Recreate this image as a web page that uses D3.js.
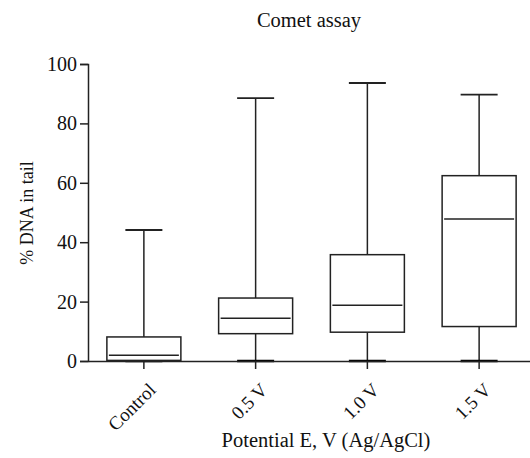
<!DOCTYPE html>
<html lang="en">
<head>
  <meta charset="UTF-8">
  <title>Comet assay</title>
  <script src="https://d3js.org/d3.v7.min.js"></script>
  <style>
    body { margin: 0; background: #fff; }
  </style>
</head>
<body>
  <script>
    // data
    const categories = ["Control", "0.5 V", "1.0 V", "1.5 V"];
    const whiskerLow = [0, 0, 0, 0];
    const q1 = [0.2, 9.2, 9.7, 11.6];
    const median = [1.9, 14.4, 18.8, 47.8];
    const q3 = [8.1, 21.2, 35.8, 62.4];
    const whiskerHigh = [44.1, 88.5, 93.6, 89.7];
    const yTicks = [0, 20, 40, 60, 80, 100];

    const width = 530, height = 458;
    const font = "'Liberation Serif', 'Times New Roman', serif";
    const svg = d3.select("body")
      .append("svg")
      .attr("width", width)
      .attr("height", height)
      .attr("font-family", font);

    const x = d3.scaleBand()
      .domain(categories)
      .range([88, 535]);

    const y = d3.scaleLinear()
      .domain([0, 100])
      .range([361, 64]);

    const stroke = "#222";
    const boxW = 74, capW = 37;

    // title
    svg.append("text")
      .attr("x", 309)
      .attr("y", 27)
      .attr("text-anchor", "middle")
      .attr("font-size", 20.5)
      .attr("fill", "#111")
      .text("Comet assay");

    // y axis
    const yAxis = svg.append("g")
      .attr("transform", "translate(88,0)")
      .call(d3.axisLeft(y).tickValues(yTicks).tickSize(8).tickPadding(3))
      .attr("font-family", font)
      .attr("font-size", 20);
    yAxis.select(".domain").attr("stroke", stroke).attr("stroke-width", 1.5);
    yAxis.selectAll(".tick line").attr("stroke", stroke).attr("stroke-width", 1.5);
    yAxis.selectAll(".tick text").attr("fill", "#111");

    svg.append("text")
      .attr("transform", "translate(33,213) rotate(-90)")
      .attr("text-anchor", "middle")
      .attr("font-size", 18)
      .attr("fill", "#111")
      .text("% DNA in tail");

    // boxes
    const g = svg.append("g")
      .selectAll("g")
      .data(categories)
      .join("g")
      .attr("transform", d => `translate(${x(d) + x.bandwidth() / 2},0)`);

    // whisker stems
    g.append("line")
      .attr("x1", 0).attr("x2", 0)
      .attr("y1", (d, i) => y(q3[i]))
      .attr("y2", (d, i) => y(whiskerHigh[i]))
      .attr("stroke", stroke).attr("stroke-width", 1.5);
    g.append("line")
      .attr("x1", 0).attr("x2", 0)
      .attr("y1", (d, i) => y(q1[i]))
      .attr("y2", (d, i) => y(whiskerLow[i]))
      .attr("stroke", stroke).attr("stroke-width", 1.5);

    // caps
    g.append("line")
      .attr("x1", -capW / 2).attr("x2", capW / 2)
      .attr("y1", (d, i) => y(whiskerHigh[i]))
      .attr("y2", (d, i) => y(whiskerHigh[i]))
      .attr("stroke", stroke).attr("stroke-width", 1.8);
    g.append("line")
      .attr("x1", -capW / 2).attr("x2", capW / 2)
      .attr("y1", (d, i) => y(whiskerLow[i]))
      .attr("y2", (d, i) => y(whiskerLow[i]))
      .attr("stroke", "#000").attr("stroke-width", 2.5);

    // box
    g.append("rect")
      .attr("x", -boxW / 2)
      .attr("width", boxW)
      .attr("y", (d, i) => y(q3[i]))
      .attr("height", (d, i) => y(q1[i]) - y(q3[i]))
      .attr("fill", "#fff")
      .attr("stroke", stroke).attr("stroke-width", 1.5);

    // median
    g.append("line")
      .attr("x1", -boxW / 2 + 2).attr("x2", boxW / 2 - 2)
      .attr("y1", (d, i) => y(median[i]))
      .attr("y2", (d, i) => y(median[i]))
      .attr("stroke", stroke).attr("stroke-width", 1.5);

    // x axis
    const xAxis = svg.append("g")
      .attr("transform", "translate(0,361)")
      .call(d3.axisBottom(x).tickSize(8).tickSizeOuter(0))
      .attr("font-family", font)
      .attr("font-size", 19);
    xAxis.select(".domain").attr("stroke", stroke).attr("stroke-width", 1.5);
    xAxis.selectAll(".tick line").attr("stroke", stroke).attr("stroke-width", 1.5);
    xAxis.selectAll(".tick text")
      .attr("fill", "#111")
      .attr("text-anchor", "end")
      .attr("dy", null)
      .attr("y", 0)
      .attr("transform", "translate(13,30) rotate(-45)");

    svg.append("text")
      .attr("x", 326)
      .attr("y", 447)
      .attr("text-anchor", "middle")
      .attr("font-size", 20.5)
      .attr("fill", "#111")
      .text("Potential E, V (Ag/AgCl)");
  </script>
</body>
</html>
